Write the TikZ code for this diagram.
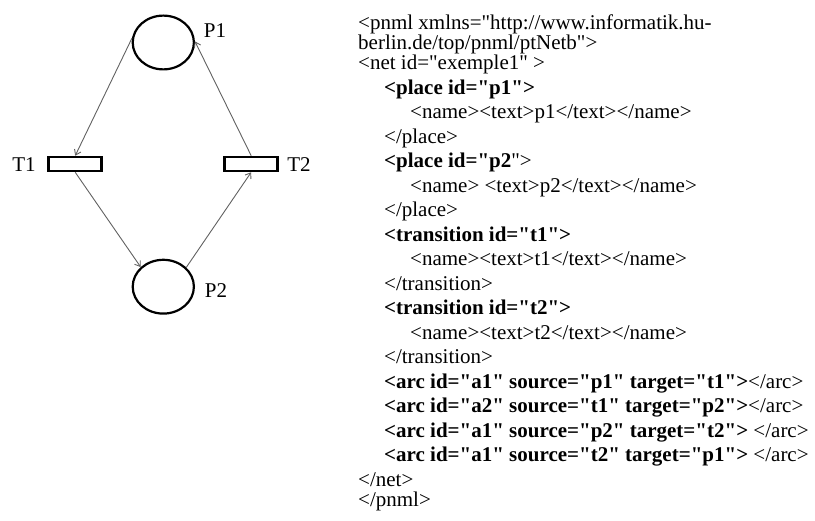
\documentclass[tikz,border=0pt]{standalone}
\usepackage{fontspec}
\setmainfont{Liberation Serif}[Ligatures=TeXOff]
\usetikzlibrary{shapes.geometric,arrows.meta}

\tikzset{
  place/.style={ellipse,draw=black,line width=2.2pt,inner sep=0pt,
    minimum width=61.2pt,minimum height=53.8pt},
  trans/.style={rectangle,draw=black,line width=2.5pt,inner sep=0pt,
    minimum width=53pt,minimum height=14pt},
  netlabel/.style={inner sep=0pt,font=\fontsize{21}{21}\selectfont},
  arc/.style={draw=black!62,line width=0.9pt,
    -{Straight Barb[length=5pt,width=7pt]}},
  code/.style={anchor=base west,inner sep=0pt,
    font=\fontsize{21}{24}\selectfont}
}

\begin{document}
\begin{tikzpicture}[x=1pt,y=-1pt]
  \useasboundingbox (0,0) rectangle (815,521);

  % Petri net: places and transitions
  \node[place] (P1) at (163.3,42.5) {};
  \node[place] (P2) at (163.3,286.7) {};
  \node[trans] (T1) at (75.2,164) {};
  \node[trans] (T2) at (251.2,164) {};

  \node[netlabel] (lP1) at (215,31) {P1};
  \node[netlabel] (lP2) at (216,291) {P2};
  \node[netlabel] (lT1) at (24,165) {T1};
  \node[netlabel] (lT2) at (299,165) {T2};

  % arcs
  \draw[arc] (P1.172) -- (T1.north);
  \draw[arc] (T1.south) -- (P2.139);
  \draw[arc] (P2.40) -- (T2.south);
  \draw[arc] (T2.north) -- (P1.2);

  % PNML listing
  \node[code] (c1)  at (358,30)    {<pnml xmlns="http://www.informatik.hu-};
  \node[code] (c2)  at (358,50)    {berlin.de/top/pnml/ptNetb">};
  \node[code] (c3)  at (358,70)    {<net id="exemple1" >};
  \node[code] (c4)  at (384,94.5)  {\bfseries <place id="p1">};
  \node[code] (c5)  at (410,119)   {<name><text>p1</text></name>};
  \node[code] (c6)  at (384,143.5) {</place>};
  \node[code] (c7)  at (384,168)   {{\bfseries <place id="p2}">};
  \node[code] (c8)  at (410,192.5) {<name> <text>p2</text></name>};
  \node[code] (c9)  at (384,217)   {</place>};
  \node[code] (c10) at (384,241.5) {\bfseries <transition id="t1">};
  \node[code] (c11) at (410,266)   {<name><text>t1</text></name>};
  \node[code] (c12) at (384,290.5) {</transition>};
  \node[code] (c13) at (384,315)   {\bfseries <transition id="t2">};
  \node[code] (c14) at (410,339.5) {<name><text>t2</text></name>};
  \node[code] (c15) at (384,364)   {</transition>};
  \node[code] (c16) at (384,388.5) {{\bfseries <arc id="a1" source="p1" target="t1">}</arc>};
  \node[code] (c17) at (384,413)   {{\bfseries <arc id="a2" source="t1" target="p2">}</arc>};
  \node[code] (c18) at (384,437.5) {{\bfseries <arc id="a1" source="p2" target="t2">} </arc>};
  \node[code] (c19) at (384,462)   {{\bfseries <arc id="a1" source="t2" target="p1">} </arc>};
  \node[code] (c20) at (358,486.5) {</net>};
  \node[code] (c21) at (358,507)   {</pnml>};
\end{tikzpicture}
\end{document}
